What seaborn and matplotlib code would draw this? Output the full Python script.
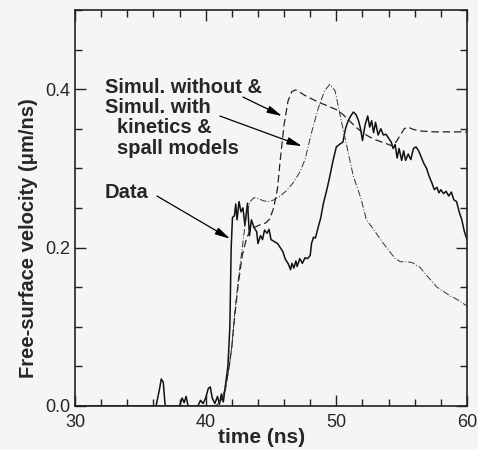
import numpy as np
import pandas as pd
import matplotlib
matplotlib.use('Agg')
import matplotlib.pyplot as plt
import seaborn as sns
from matplotlib.ticker import MultipleLocator, FormatStrFormatter

# 测量数据 (实线)
data_t = [30.0, 36.2, 36.45, 36.6, 36.75, 36.9, 38.0, 38.2, 38.35, 38.5, 38.65, 39.4, 39.6, 39.8,
          40.0, 40.2, 40.35, 40.5, 40.7, 40.9, 41.05, 41.2, 41.35, 41.5, 41.7, 41.85, 41.95, 42.05,
          42.2, 42.3, 42.4, 42.55, 42.7, 42.85, 43.0, 43.2, 43.35, 43.5, 43.7, 43.9, 44.0, 44.2,
          44.35, 44.5, 44.7, 44.85, 45.0, 45.3, 45.5, 45.7, 45.9, 46.1, 46.3, 46.5, 46.6, 46.75,
          46.9, 47.0, 47.2, 47.4, 47.6, 47.8, 48.0, 48.1, 48.25, 48.4, 48.6, 48.8, 49.0, 49.3,
          49.5, 49.75, 50.0, 50.3, 50.5, 50.7, 50.9, 51.1, 51.3, 51.5, 51.7, 51.85, 52.0, 52.2,
          52.4, 52.55, 52.7, 52.85, 53.0, 53.2, 53.4, 53.6, 53.8, 54.0, 54.2, 54.35, 54.5, 54.65,
          54.8, 55.0, 55.15, 55.3, 55.5, 55.7, 55.9, 56.1, 56.3, 56.5, 56.7, 56.9, 57.1, 57.3,
          57.5, 57.7, 57.85, 58.0, 58.2, 58.4, 58.6, 58.8, 59.0, 59.2, 59.4, 59.6, 59.8, 60.0]
data_v = [0.0, 0.0, 0.02, 0.034, 0.03, 0.0, 0.0, 0.01, 0.004, 0.012, 0.0, 0.0, 0.007, 0.003,
          0.01, 0.022, 0.024, 0.01, 0.003, 0.012, 0.002, 0.015, 0.005, 0.025, 0.05, 0.10, 0.20, 0.238,
          0.24, 0.255, 0.235, 0.258, 0.245, 0.25, 0.228, 0.256, 0.215, 0.235, 0.225, 0.22, 0.205, 0.215,
          0.21, 0.222, 0.218, 0.223, 0.21, 0.207, 0.205, 0.20, 0.195, 0.185, 0.18, 0.172, 0.18, 0.174,
          0.183, 0.176, 0.186, 0.18, 0.187, 0.186, 0.19, 0.205, 0.213, 0.212, 0.225, 0.237, 0.255, 0.275,
          0.29, 0.31, 0.327, 0.331, 0.333, 0.35, 0.36, 0.366, 0.371, 0.368, 0.36, 0.35, 0.335, 0.355,
          0.366, 0.352, 0.36, 0.345, 0.358, 0.342, 0.35, 0.342, 0.343, 0.338, 0.333, 0.325, 0.33, 0.313,
          0.325, 0.31, 0.322, 0.31, 0.318, 0.311, 0.325, 0.327, 0.322, 0.314, 0.306, 0.30, 0.29, 0.282,
          0.273, 0.276, 0.269, 0.273, 0.268, 0.271, 0.265, 0.27, 0.26, 0.258, 0.245, 0.235, 0.22, 0.21]

# 无动力学模型的模拟 (虚线)
sim_wo_t = [30.0, 40.8, 41.2, 41.5, 41.8, 42.0, 42.2, 42.5, 42.8, 43.1, 43.4, 43.8, 44.2, 44.6,
            44.9, 45.2, 45.5, 45.7, 46.0, 46.3, 46.6, 46.9, 47.2, 47.7, 48.2, 48.7, 49.3, 50.0,
            50.5, 51.0, 51.5, 52.0, 52.5, 53.0, 53.5, 54.0, 54.3, 54.6, 54.9, 55.2, 55.5, 55.9,
            56.5, 57.5, 60.0]
sim_wo_v = [0.0, 0.0, 0.008, 0.02, 0.05, 0.075, 0.11, 0.155, 0.19, 0.21, 0.222, 0.226, 0.229, 0.231,
            0.236, 0.25, 0.275, 0.31, 0.355, 0.385, 0.397, 0.399, 0.396, 0.391, 0.387, 0.383, 0.379, 0.374,
            0.368, 0.36, 0.352, 0.345, 0.34, 0.336, 0.333, 0.33, 0.328, 0.334, 0.342, 0.35, 0.352, 0.349,
            0.347, 0.346, 0.346]

# 有动力学和层裂模型的模拟 (点划线)
sim_w_t = [30.0, 40.8, 41.2, 41.5, 41.8, 42.0, 42.2, 42.5, 42.8, 43.1, 43.4, 43.7, 44.0, 44.4,
           44.8, 45.2, 45.7, 46.2, 46.7, 47.2, 47.6, 48.1, 48.6, 49.1, 49.5, 49.9, 50.3, 50.8,
           51.3, 51.9, 52.3, 52.8, 53.6, 54.5, 54.9, 55.4, 55.8, 56.4, 57.0, 57.7, 58.7, 59.3, 60.0]
sim_w_v = [0.0, 0.0, 0.008, 0.022, 0.05, 0.075, 0.113, 0.16, 0.20, 0.24, 0.258, 0.263, 0.262, 0.259,
           0.258, 0.26, 0.265, 0.272, 0.282, 0.295, 0.311, 0.345, 0.375, 0.398, 0.406, 0.398, 0.366, 0.328,
           0.29, 0.261, 0.235, 0.224, 0.205, 0.186, 0.182, 0.182, 0.181, 0.175, 0.163, 0.15, 0.139, 0.134, 0.126]

bg = '#f5f5f3'
sns.set_style('ticks')
plt.rcParams['font.family'] = ['Liberation Sans', 'DejaVu Sans']

fig = plt.figure(figsize=(4.78, 4.5), dpi=100, facecolor=bg)
ax = fig.add_axes([0.157, 0.098, 0.82, 0.88])
ax.set_facecolor(bg)

sns.lineplot(x=data_t, y=data_v, ax=ax, color='#111111', lw=1.1, estimator=None, sort=False)
sns.lineplot(x=sim_wo_t, y=sim_wo_v, ax=ax, color='#222222', lw=0.9, estimator=None, sort=False,
             linestyle=(0, (6, 3)))
sns.lineplot(x=sim_w_t, y=sim_w_v, ax=ax, color='#333333', lw=0.7, estimator=None, sort=False,
             linestyle=(0, (7, 2, 1, 2)))

ax.set_xlim(30, 60)
ax.set_ylim(0, 0.5)
ax.xaxis.set_major_locator(MultipleLocator(10))
ax.xaxis.set_minor_locator(MultipleLocator(2))
ax.yaxis.set_major_locator(MultipleLocator(0.2))
ax.yaxis.set_minor_locator(MultipleLocator(0.05))
ax.yaxis.set_major_formatter(FormatStrFormatter('%.1f'))
ax.tick_params(which='both', direction='in', top=True, right=True, labelsize=13, color='#222222')
ax.tick_params(which='major', length=8, width=1)
ax.tick_params(which='minor', length=5, width=1)
ax.tick_params(axis='x', pad=6)
for s in ax.spines.values():
    s.set_visible(True)
    s.set_linewidth(1.2)
    s.set_color('#222222')

ax.set_xlabel('time (ns)', fontsize=15, fontweight='bold')
ax.set_ylabel('Free-surface velocity (\u03bcm/ns)', fontsize=14.5, fontweight='bold')
ax.xaxis.set_label_coords(0.477, -0.055)
ax.yaxis.set_label_coords(-0.095, 0.424)

# 文字标注
tkw = dict(fontsize=14.5, fontweight='bold', va='center', ha='left')
ax.text(32.3, 0.402, 'Simul. without &', **tkw)
ax.text(32.3, 0.377, 'Simul. with', **tkw)
ax.text(33.2, 0.351, 'kinetics &', **tkw)
ax.text(33.2, 0.325, 'spall models', **tkw)
ax.text(32.3, 0.27, 'Data', **tkw)

akw = dict(arrowstyle='-|>,head_length=0.9,head_width=0.22', color='black', lw=0.9,
           shrinkA=0, shrinkB=0)
ax.annotate('', xy=(45.84, 0.366), xytext=(42.85, 0.39), arrowprops=akw)
ax.annotate('', xy=(47.37, 0.328), xytext=(41.09, 0.366), arrowprops=akw)
ax.annotate('', xy=(41.86, 0.211), xytext=(36.27, 0.265), arrowprops=akw)

fig.savefig('out.png', dpi=100, facecolor=bg)
